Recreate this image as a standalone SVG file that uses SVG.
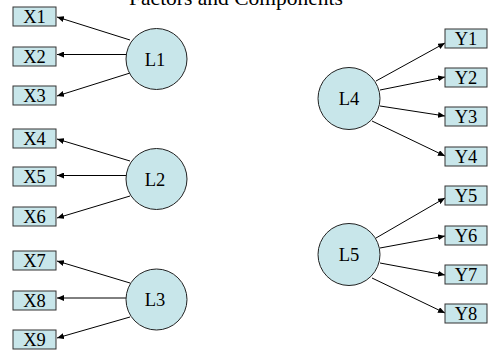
<svg xmlns="http://www.w3.org/2000/svg" width="489" height="352" viewBox="0 0 489 352">
<defs>
<style>
.box{fill:#c8e6ea;stroke:#333;stroke-width:1}
.lat{fill:#c8e6ea;stroke:#222;stroke-width:1}
.t{font-family:"Liberation Serif","Times New Roman",serif;font-size:18.5px;fill:#000;text-anchor:middle}
.c{stroke:#000;stroke-width:1;fill:none;marker-end:url(#ah)}
</style>
<marker id="ah" markerUnits="userSpaceOnUse" markerWidth="8" markerHeight="6" refX="7" refY="3" orient="auto">
<path d="M0,0 L7,3 L0,6 z" fill="#000"/>
</marker>
</defs>
<rect width="489" height="352" fill="#fff"/>
<text x="236" y="5" style="font-family:'Liberation Serif','Times New Roman',serif;font-size:21.5px;text-anchor:middle">Factors and Components</text>
<g id="connectors">
<line class="c" x1="130" y1="40" x2="57" y2="17"/>
<line class="c" x1="126" y1="54.5" x2="57" y2="54.5"/>
<line class="c" x1="130" y1="73" x2="57" y2="96"/>
<line class="c" x1="130" y1="161" x2="57" y2="139"/>
<line class="c" x1="126" y1="175.5" x2="57" y2="175.5"/>
<line class="c" x1="130" y1="196" x2="57" y2="218"/>
<line class="c" x1="130" y1="283" x2="57" y2="261"/>
<line class="c" x1="126" y1="298" x2="57" y2="298"/>
<line class="c" x1="130" y1="317" x2="57" y2="338"/>
<line class="c" x1="376" y1="81" x2="445" y2="43"/>
<line class="c" x1="380" y1="90" x2="445" y2="77"/>
<line class="c" x1="380" y1="106" x2="445" y2="116"/>
<line class="c" x1="372" y1="121" x2="445" y2="156"/>
<line class="c" x1="376" y1="238" x2="445" y2="198"/>
<line class="c" x1="380" y1="248" x2="445" y2="236"/>
<line class="c" x1="380" y1="263" x2="445" y2="275"/>
<line class="c" x1="372" y1="278" x2="445" y2="313"/>
</g>
<g id="X1"><rect class="box" x="13" y="7" width="43" height="19"/><text class="t" x="34.5" y="22.5">X1</text></g>
<g id="X2"><rect class="box" x="13" y="47" width="43" height="19"/><text class="t" x="34.5" y="62.5">X2</text></g>
<g id="X3"><rect class="box" x="13" y="86" width="43" height="19"/><text class="t" x="34.5" y="101.5">X3</text></g>
<g id="X4"><rect class="box" x="13" y="129" width="43" height="19"/><text class="t" x="34.5" y="144.5">X4</text></g>
<g id="X5"><rect class="box" x="13" y="167" width="43" height="19"/><text class="t" x="34.5" y="182.5">X5</text></g>
<g id="X6"><rect class="box" x="13" y="207" width="43" height="19"/><text class="t" x="34.5" y="222.5">X6</text></g>
<g id="X7"><rect class="box" x="13" y="251" width="43" height="19"/><text class="t" x="34.5" y="266.5">X7</text></g>
<g id="X8"><rect class="box" x="13" y="291" width="43" height="19"/><text class="t" x="34.5" y="306.5">X8</text></g>
<g id="X9"><rect class="box" x="13" y="330" width="43" height="19"/><text class="t" x="34.5" y="345.5">X9</text></g>
<g id="Y1"><rect class="box" x="445" y="29" width="42" height="19"/><text class="t" x="466" y="44.5">Y1</text></g>
<g id="Y2"><rect class="box" x="445" y="68" width="42" height="19"/><text class="t" x="466" y="83.5">Y2</text></g>
<g id="Y3"><rect class="box" x="445" y="107" width="42" height="19"/><text class="t" x="466" y="122.5">Y3</text></g>
<g id="Y4"><rect class="box" x="445" y="147" width="42" height="19"/><text class="t" x="466" y="162.5">Y4</text></g>
<g id="Y5"><rect class="box" x="445" y="186" width="42" height="19"/><text class="t" x="466" y="201.5">Y5</text></g>
<g id="Y6"><rect class="box" x="445" y="226" width="42" height="19"/><text class="t" x="466" y="241.5">Y6</text></g>
<g id="Y7"><rect class="box" x="445" y="265" width="42" height="19"/><text class="t" x="466" y="280.5">Y7</text></g>
<g id="Y8"><rect class="box" x="445" y="304" width="42" height="19"/><text class="t" x="466" y="319.5">Y8</text></g>
<g id="L1"><circle class="lat" cx="156.5" cy="59" r="30.5"/><text class="t" x="155" y="65.5">L1</text></g>
<g id="L2"><circle class="lat" cx="156.5" cy="179" r="30.5"/><text class="t" x="155" y="185.5">L2</text></g>
<g id="L3"><circle class="lat" cx="156.5" cy="299.5" r="30.5"/><text class="t" x="155" y="306">L3</text></g>
<g id="L4"><circle class="lat" cx="349" cy="98.5" r="31"/><text class="t" x="349" y="105">L4</text></g>
<g id="L5"><circle class="lat" cx="349" cy="254.5" r="31"/><text class="t" x="349" y="261">L5</text></g>
</svg>
